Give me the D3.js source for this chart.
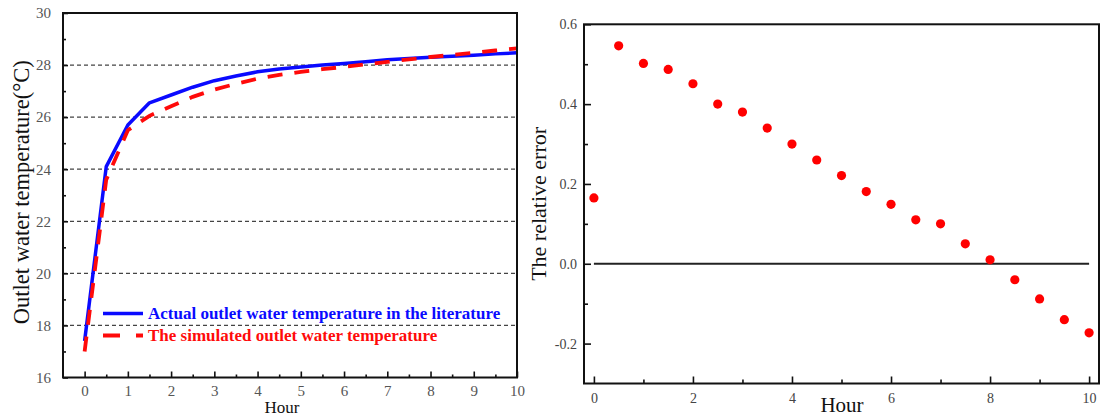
<!DOCTYPE html>
<html>
<head>
<meta charset="utf-8">
<script src="https://cdn.jsdelivr.net/npm/d3@7"></script>
<style>
  body { margin: 0; background: #fff; }
  svg text { font-family: "Liberation Serif", "DejaVu Serif", serif; }
</style>
</head>
<body>
<div id="chart-area"></div>
<script>
// Datos
const hours = [0, 0.5, 1, 1.5, 2, 2.5, 3, 3.5, 4, 4.5, 5, 5.5, 6, 6.5, 7, 7.5, 8, 8.5, 9, 9.5, 10];
const actualTemp = [17.4, 24.1, 25.7, 26.55, 26.85, 27.15, 27.4, 27.58, 27.74, 27.85, 27.93, 28.0, 28.06, 28.13, 28.2, 28.25, 28.3, 28.34, 28.38, 28.43, 28.47];
const simTemp = [17.0, 23.6, 25.5, 26.05, 26.42, 26.78, 27.06, 27.28, 27.48, 27.62, 27.74, 27.84, 27.93, 28.03, 28.12, 28.22, 28.31, 28.39, 28.47, 28.56, 28.64];
const relError = [0.165, 0.546, 0.502, 0.487, 0.451, 0.40, 0.38, 0.34, 0.30, 0.26, 0.221, 0.181, 0.149, 0.11, 0.10, 0.05, 0.01, -0.04, -0.088, -0.14, -0.173];

const leftXTicks = [0, 1, 2, 3, 4, 5, 6, 7, 8, 9, 10];
const leftYTicks = [16, 18, 20, 22, 24, 26, 28, 30];
const gridValues = [18, 20, 22, 24, 26, 28];
const rightXTicks = [0, 2, 4, 6, 8, 10];
const rightYTicks = [-0.2, 0, 0.2, 0.4, 0.6];
const legendLabels = ["Actual outlet water temperature in the literature", "The simulated outlet water temperature"];

const svg = d3.select("#chart-area")
    .append("svg")
    .attr("width", 1105)
    .attr("height", 417);

// ---------- Gráfico izquierdo ----------
const L = { left: 63, right: 517, top: 13, bottom: 377.5 };
const x1 = d3.scaleLinear().domain([-0.5, 10]).range([L.left, L.right]);
const y1 = d3.scaleLinear().domain([16, 30]).range([L.bottom, L.top]);

const g1 = svg.append("g");

// rejilla discontinua
g1.selectAll(".grid")
    .data(gridValues)
    .enter().append("line")
    .attr("x1", L.left).attr("x2", L.right)
    .attr("y1", d => y1(d)).attr("y2", d => y1(d))
    .attr("stroke", "#444")
    .attr("stroke-width", 1.3)
    .attr("stroke-dasharray", "4,3");

// ejes (ticks hacia dentro)
const fmtTick = d => d;
const x1Axis = g1.append("g")
    .attr("transform", `translate(0,${L.bottom})`)
    .call(d3.axisBottom(x1).tickValues(leftXTicks).tickSize(-6).tickPadding(8).tickFormat(fmtTick));
const x1Minor = g1.append("g")
    .attr("transform", `translate(0,${L.bottom})`)
    .call(d3.axisBottom(x1).tickValues(d3.range(0.5, 10, 1)).tickSize(-3).tickFormat(""));
const y1Axis = g1.append("g")
    .attr("transform", `translate(${L.left},0)`)
    .call(d3.axisLeft(y1).tickValues(leftYTicks).tickSize(-5).tickPadding(12).tickFormat(fmtTick));
const y1Minor = g1.append("g")
    .attr("transform", `translate(${L.left},0)`)
    .call(d3.axisLeft(y1).tickValues(d3.range(17, 30, 2)).tickSize(-3).tickFormat(""));

[x1Axis, x1Minor, y1Axis, y1Minor].forEach(a => {
    a.select(".domain").remove();
    a.selectAll(".tick line").attr("stroke", "#111").attr("stroke-width", 1.6);
    a.selectAll(".tick text").attr("fill", "#555").style("font-size", "15px");
});

// líneas
const lineT = vals => d3.line()
    .x((d, i) => x1(hours[i]))
    .y(d => y1(d))(vals);

g1.append("path")
    .attr("d", lineT(actualTemp))
    .attr("fill", "none")
    .attr("stroke", "#0a0aff")
    .attr("stroke-width", 3.5)
    .attr("stroke-linejoin", "round");

g1.append("path")
    .attr("d", lineT(simTemp))
    .attr("fill", "none")
    .attr("stroke", "#ff0a0a")
    .attr("stroke-width", 3.8)
    .attr("stroke-dasharray", "15,12");

// marco
g1.append("rect")
    .attr("x", L.left).attr("y", L.top)
    .attr("width", L.right - L.left).attr("height", L.bottom - L.top)
    .attr("fill", "none")
    .attr("stroke", "#111")
    .attr("stroke-width", 2);

// leyenda
const legendColors = ["#0a0aff", "#ff0a0a"];
const legend = g1.selectAll(".legendGroup")
    .data(legendLabels)
    .enter().append("g")
    .attr("class", "legendGroup")
    .attr("transform", (d, i) => `translate(103, ${313.5 + i * 22})`);

legend.append("line")
    .attr("x1", 0).attr("x2", 40)
    .attr("stroke", (d, i) => legendColors[i])
    .attr("stroke-width", (d, i) => i === 0 ? 3.5 : 4)
    .attr("stroke-dasharray", (d, i) => i === 0 ? null : "17,16");

legend.append("text")
    .attr("x", 45)
    .attr("y", 5.5)
    .attr("fill", (d, i) => legendColors[i])
    .style("font-size", "17px")
    .style("font-weight", "bold")
    .text(d => d);

// títulos de ejes
g1.append("text")
    .attr("transform", `translate(29, ${(L.top + L.bottom) / 2 - 3}) rotate(-90)`)
    .attr("text-anchor", "middle")
    .attr("fill", "#111")
    .style("font-size", "22.5px")
    .text("Outlet water temperature(°C)");

g1.append("text")
    .attr("x", 282)
    .attr("y", 413)
    .attr("text-anchor", "middle")
    .attr("fill", "#111")
    .style("font-size", "17px")
    .text("Hour");

// ---------- Gráfico derecho ----------
const R = { left: 584, right: 1099, top: 24.3, bottom: 383.5 };
const x2 = d3.scaleLinear().domain([-0.2, 10.2]).range([R.left, R.right]);
const y2 = d3.scaleLinear().domain([-0.3, 0.6]).range([R.bottom, R.top]);

const g2 = svg.append("g");

const fmtErr = d => d3.format(".1f")(d).replace("−", "-");
const x2Axis = g2.append("g")
    .attr("transform", `translate(0,${R.bottom})`)
    .call(d3.axisBottom(x2).tickValues(rightXTicks).tickSize(-7).tickPadding(10).tickFormat(d => d));
const x2Minor = g2.append("g")
    .attr("transform", `translate(0,${R.bottom})`)
    .call(d3.axisBottom(x2).tickValues(d3.range(1, 10, 2)).tickSize(-4).tickFormat(""));
const y2Axis = g2.append("g")
    .attr("transform", `translate(${R.left},0)`)
    .call(d3.axisLeft(y2).tickValues(rightYTicks).tickSize(-7).tickPadding(7).tickFormat(fmtErr));
const y2Minor = g2.append("g")
    .attr("transform", `translate(${R.left},0)`)
    .call(d3.axisLeft(y2).tickValues([-0.1, 0.1, 0.3, 0.5]).tickSize(-4).tickFormat(""));

[x2Axis, x2Minor, y2Axis, y2Minor].forEach(a => {
    a.select(".domain").remove();
    a.selectAll(".tick line").attr("stroke", "#111").attr("stroke-width", 1.6);
    a.selectAll(".tick text").attr("fill", "#444").style("font-size", "14px");
});

// línea de cero
g2.append("line")
    .attr("x1", x2(0)).attr("x2", x2(10))
    .attr("y1", y2(0)).attr("y2", y2(0))
    .attr("stroke", "#222")
    .attr("stroke-width", 2);

// puntos
g2.selectAll(".dot")
    .data(relError)
    .enter().append("circle")
    .attr("class", "dot")
    .attr("cx", (d, i) => x2(hours[i]))
    .attr("cy", d => y2(d))
    .attr("r", 4.6)
    .attr("fill", "#ff0000");

g2.append("rect")
    .attr("x", R.left).attr("y", R.top)
    .attr("width", R.right - R.left).attr("height", R.bottom - R.top)
    .attr("fill", "none")
    .attr("stroke", "#111")
    .attr("stroke-width", 2);

g2.append("text")
    .attr("transform", `translate(546, ${(R.top + R.bottom) / 2}) rotate(-90)`)
    .attr("text-anchor", "middle")
    .attr("fill", "#111")
    .style("font-size", "22px")
    .text("The relative error");

g2.append("text")
    .attr("x", 842)
    .attr("y", 412)
    .attr("text-anchor", "middle")
    .attr("fill", "#111")
    .style("font-size", "21px")
    .text("Hour");
</script>
</body>
</html>
